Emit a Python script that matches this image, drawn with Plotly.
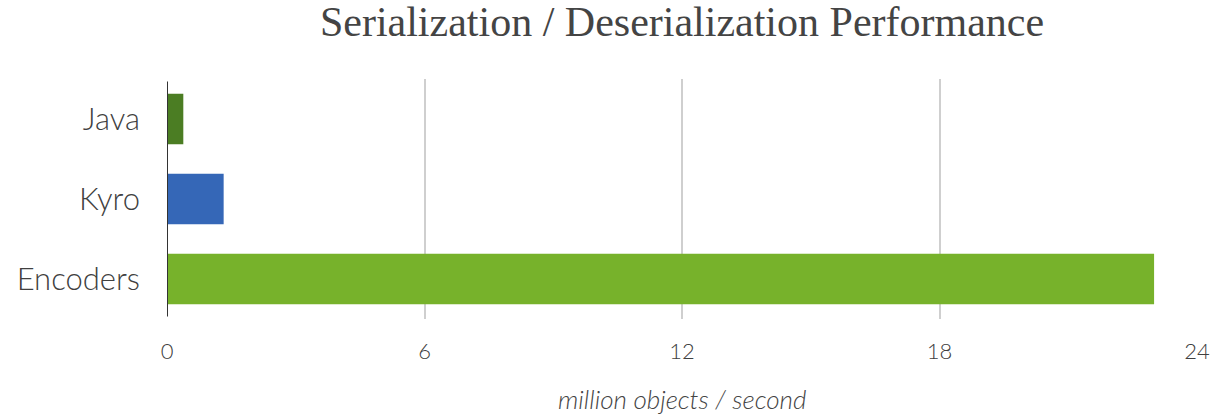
import plotly.graph_objects as go

categories = ["Java", "Kyro", "Encoders"]
values = [0.38, 1.32, 23.0]
colors = ["#4b7d23", "#3567b7", "#77b22b"]
x_ticks = [0, 6, 12, 18, 24]

fig = go.Figure(go.Bar(
    y=categories, x=values, orientation="h",
    marker=dict(color=colors, line=dict(width=0)),
    width=0.63,
))

fig.update_layout(
    width=1218, height=416,
    margin=dict(l=167, r=21, t=79, b=97),
    paper_bgcolor="white", plot_bgcolor="white",
    showlegend=False,
    font=dict(family="Lato", color="#444444", weight=300),
    title=dict(
        text="Serialization / Deserialization Performance",
        font=dict(family="Liberation Serif", size=42, color="#444444"),
        x=0.5, xref="paper", xanchor="center",
        y=0.948, yref="container", yanchor="middle",
    ),
    xaxis=dict(
        range=[0, 24], tickvals=x_ticks, ticktext=[str(v) for v in x_ticks],
        showgrid=True, gridcolor="#cfcfcf", gridwidth=1.5,
        zeroline=False, showline=False, automargin=False,
        tickfont=dict(size=22, color="#404040", weight=300),
        ticks="", ticklabelstandoff=17,
    ),
    yaxis=dict(
        categoryorder="array", categoryarray=categories[::-1],
        range=[-0.5, 2.5],
        showgrid=False, zeroline=False, automargin=False,
        showline=False,
        tickfont=dict(size=31, color="#404040", weight=300),
        ticks="", ticklabelstandoff=26,
    ),
    shapes=[dict(type="line", xref="x", yref="paper", x0=0, x1=0, y0=0.01, y1=0.99,
                 line=dict(color="#333333", width=2))],
    annotations=[dict(
        text="<i>million objects / second</i>", xref="paper", yref="paper",
        x=0.5, y=-0.335, xanchor="center", yanchor="middle", showarrow=False,
        font=dict(size=26, color="#444444", weight=300),
    )],
)

fig.write_html("out.html")
